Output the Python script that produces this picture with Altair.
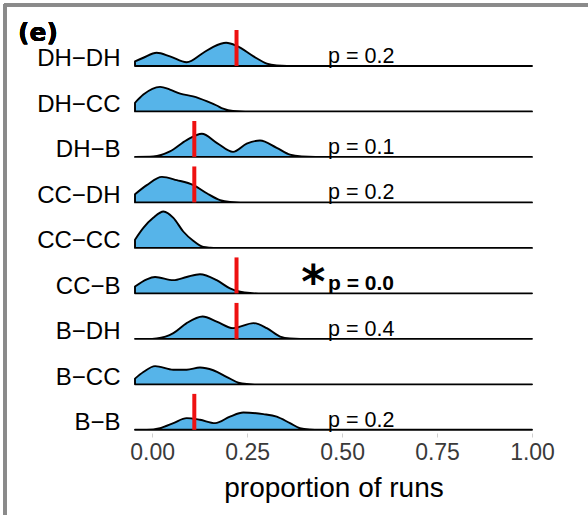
import altair as alt
import pandas as pd

# rows from bottom to top
row_names = ["B−B", "B−CC", "B−DH", "CC−B", "CC−CC", "CC−DH", "DH−B", "DH−CC", "DH−DH"]

# ridge shapes (x = proportion of runs, h = scaled density height)
dhdh_x = [-0.045, -0.023, 0.012, 0.047, 0.091, 0.135, 0.161, 0.195, 0.223, 0.267, 0.302, 0.328, 0.355]
dhdh_h = [0.10, 0.18, 0.29, 0.21, 0.08, 0.29, 0.42, 0.51, 0.44, 0.21, 0.05, 0.01, 0.0]

dhcc_x = [-0.045, -0.023, 0.021, 0.047, 0.074, 0.108, 0.145, 0.170, 0.187, 0.213, 0.245]
dhcc_h = [0.19, 0.37, 0.54, 0.48, 0.39, 0.33, 0.22, 0.13, 0.06, 0.01, 0.0]

dhb_x = [-0.045, 0.003, 0.047, 0.091, 0.131, 0.170, 0.213, 0.249, 0.284, 0.328, 0.363, 0.394, 0.43]
dhb_h = [0.0, 0.01, 0.12, 0.37, 0.51, 0.31, 0.11, 0.29, 0.36, 0.20, 0.05, 0.01, 0.0]

ccdh_x = [-0.045, -0.014, 0.026, 0.065, 0.109, 0.144, 0.179, 0.205, 0.232]
ccdh_h = [0.18, 0.38, 0.56, 0.49, 0.38, 0.20, 0.05, 0.01, 0.0]

cccc_x = [-0.045, -0.023, 0.003, 0.030, 0.056, 0.082, 0.109, 0.135, 0.153, 0.17]
cccc_h = [0.18, 0.44, 0.66, 0.80, 0.66, 0.36, 0.15, 0.02, 0.005, 0.0]

ccb_x = [-0.045, -0.014, 0.008, 0.056, 0.091, 0.126, 0.170, 0.205, 0.232, 0.258, 0.28]
ccb_h = [0.15, 0.31, 0.36, 0.29, 0.36, 0.42, 0.29, 0.11, 0.035, 0.007, 0.0]

bdh_x = [-0.045, 0.0, 0.012, 0.056, 0.091, 0.133, 0.170, 0.213, 0.267, 0.302, 0.337, 0.363, 0.39]
bdh_h = [0.0, 0.0, 0.007, 0.125, 0.345, 0.49, 0.38, 0.235, 0.345, 0.235, 0.05, 0.007, 0.0]

bcc_x = [-0.045, -0.023, 0.008, 0.056, 0.091, 0.126, 0.161, 0.197, 0.227, 0.249, 0.27]
bcc_h = [0.125, 0.27, 0.40, 0.32, 0.32, 0.37, 0.31, 0.16, 0.037, 0.007, 0.0]

bb_x = [-0.045, -0.014, 0.021, 0.056, 0.091, 0.126, 0.166, 0.205, 0.240, 0.293, 0.328, 0.363, 0.389, 0.416, 0.44]
bb_h = [0.0, 0.0, 0.037, 0.147, 0.257, 0.22, 0.147, 0.29, 0.38, 0.345, 0.29, 0.147, 0.037, 0.007, 0.0]

ridges = {
    "B−B": (bb_x, bb_h), "B−CC": (bcc_x, bcc_h), "B−DH": (bdh_x, bdh_h),
    "CC−B": (ccb_x, ccb_h), "CC−CC": (cccc_x, cccc_h), "CC−DH": (ccdh_x, ccdh_h),
    "DH−B": (dhb_x, dhb_h), "DH−CC": (dhcc_x, dhcc_h), "DH−DH": (dhdh_x, dhdh_h),
}

# observed proportion (red line) and p-values per row
obs_rows = ["DH−DH", "DH−B", "CC−DH", "CC−B", "B−DH", "B−B"]
obs_vals = [2/9, 1/9, 1/9, 2/9, 2/9, 1/9]
p_rows = ["DH−DH", "DH−B", "CC−DH", "CC−B", "B−DH", "B−B"]
p_labels = ["p = 0.2", "p = 0.1", "p = 0.2", "p = 0.0", "p = 0.4", "p = 0.2"]
p_bold = [False, False, False, True, False, False]

X_MIN, X_MAX = -0.045, 1.0

recs = []
for i, name in enumerate(row_names):
    xs, hs = ridges[name]
    for x, h in zip(xs, hs):
        recs.append({"name": name, "row": i, "x": x, "top": i + h})
    recs.append({"name": name, "row": i, "x": X_MAX, "top": i})
df = pd.DataFrame(recs)

obs_df = pd.DataFrame({"name": obs_rows, "obs": obs_vals})
obs_df["row"] = obs_df["name"].map(row_names.index)
obs_df["rtop"] = obs_df["row"] + 0.79

p_df = pd.DataFrame({"name": p_rows, "label": p_labels, "bold": p_bold})
p_df["row"] = p_df["name"].map(row_names.index)

FONT = "Liberation Sans"
label_expr = "[" + ",".join("'" + n + "'" for n in row_names) + "][datum.value]"

xscale = alt.Scale(domain=[X_MIN, X_MAX], nice=False, zero=False)
yscale = alt.Scale(domain=[-0.07, 9.01], nice=False, zero=False)

xaxis = alt.Axis(
    values=[0, 0.25, 0.5, 0.75, 1.0], format=".2f", title="proportion of runs",
    titleFont=FONT, titleFontSize=28, titleFontWeight="normal", titleColor="black",
    titlePadding=10, labelFont=FONT, labelFontSize=23, labelColor="#3a3a3a",
    labelFlush=False, labelOverlap=False, labelPadding=4,
    tickColor="#d0d0d0", tickSize=4, domain=False, grid=False)
yaxis = alt.Axis(
    values=list(range(9)), labelExpr=label_expr, title=None,
    labelFont=FONT, labelFontSize=24, labelColor="black", labelBaseline="alphabetic",
    labelPadding=15, ticks=False, domain=False, grid=False)

area = alt.Chart(df).mark_area(
    interpolate="monotone", fill="#56B4E9", stroke="black", strokeWidth=1.9,
    strokeJoin="round", fillOpacity=1
).encode(
    x=alt.X("x:Q", scale=xscale, axis=xaxis),
    y=alt.Y("top:Q", scale=yscale, axis=yaxis),
    y2=alt.Y2("row:Q"),
    detail="name:N",
)

rules = alt.Chart(obs_df).mark_rule(color="#ee1111", strokeWidth=4).encode(
    x=alt.X("obs:Q", title="proportion of runs"),
    y=alt.Y("row:Q", title=None),
    y2="rtop:Q",
)

ptext = alt.Chart(p_df).transform_filter("!datum.bold").mark_text(
    align="left", baseline="alphabetic", dy=-3, font=FONT, fontSize=21.5, color="black"
).encode(x=alt.datum(0.463), y=alt.Y("row:Q", title=None), text="label:N")

ptext_b = alt.Chart(p_df).transform_filter("datum.bold").mark_text(
    align="left", baseline="alphabetic", dy=-3, font=FONT, fontSize=21, fontWeight="bold", color="black"
).encode(x=alt.datum(0.463), y=alt.Y("row:Q", title=None), text="label:N")

star = alt.Chart(p_df).transform_filter("datum.bold").mark_text(
    align="center", baseline="alphabetic", dy=5, font="DejaVu Sans", fontSize=46, fontWeight="bold", color="black"
).encode(x=alt.datum(0.424), y=alt.Y("row:Q", title=None), text=alt.value("*"))

panel_tag = alt.Chart(p_df).mark_text(
    align="left", baseline="alphabetic", font="DejaVu Sans", fontSize=25, fontWeight="bold", color="black"
).encode(x=alt.value(-117), y=alt.value(21), text=alt.value("(e)"))

frame_top = alt.Chart(p_df).mark_rule(color="#8a8a8a", strokeWidth=3).encode(
    x=alt.value(-131), x2=alt.value(460), y=alt.value(-15)
)
frame_left = alt.Chart(p_df).mark_rule(color="#8a8a8a", strokeWidth=3).encode(
    x=alt.value(-130), y=alt.value(-16), y2=alt.value(500)
)

chart = alt.layer(area, rules, ptext, ptext_b, star, panel_tag, frame_top, frame_left).properties(
    width=397, height=413,
    autosize=alt.AutoSizeParams(type="none"),
    padding={"left": 135, "top": 20, "right": 56, "bottom": 82},
).configure(background="white").configure_view(stroke=None)

chart.save("out.html", embed_options={"renderer": "svg", "actions": False})
